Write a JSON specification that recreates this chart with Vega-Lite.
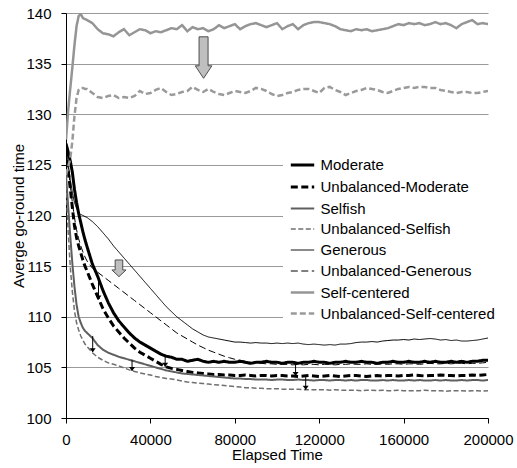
{
"$schema": "https://vega.github.io/schema/vega-lite/v6.json",
"width": 422, "height": 405,
"autosize": {"type": "none"},
"padding": {"left": 66, "top": 13, "right": 29, "bottom": 50},
"background": "white",
"config": {"font": "Liberation Sans", "view": {"stroke": null}},
"datasets": {
"curves": [
{"t":0,"Moderate":127.1,"Unbalanced-Moderate":126.5,"Selfish":124.0,"Unbalanced-Selfish":123.0,"Generous":127.0,"Unbalanced-Generous":126.2,"Self-centered":127.5,"Unbalanced-Self-centered":124.0},
{"t":1000,"Moderate":126.3,"Unbalanced-Moderate":124.5,"Selfish":121.0,"Unbalanced-Selfish":118.5,"Generous":125.2,"Unbalanced-Generous":124.8,"Self-centered":130.3,"Unbalanced-Self-centered":124.8},
{"t":2000,"Moderate":125.4,"Unbalanced-Moderate":122.7,"Selfish":118.0,"Unbalanced-Selfish":115.0,"Generous":123.6,"Unbalanced-Generous":123.0,"Self-centered":132.5,"Unbalanced-Self-centered":125.6},
{"t":3000,"Moderate":124.3,"Unbalanced-Moderate":120.8,"Selfish":115.3,"Unbalanced-Selfish":112.5,"Generous":122.3,"Unbalanced-Generous":121.3,"Self-centered":134.6,"Unbalanced-Self-centered":127.3},
{"t":4000,"Moderate":122.6,"Unbalanced-Moderate":119.0,"Selfish":113.0,"Unbalanced-Selfish":110.6,"Generous":121.3,"Unbalanced-Generous":119.8,"Self-centered":136.8,"Unbalanced-Self-centered":129.8},
{"t":5000,"Moderate":121.3,"Unbalanced-Moderate":117.8,"Selfish":111.2,"Unbalanced-Selfish":109.4,"Generous":120.7,"Unbalanced-Generous":118.6,"Self-centered":138.7,"Unbalanced-Self-centered":131.6},
{"t":6000,"Moderate":120.2,"Unbalanced-Moderate":117.0,"Selfish":110.0,"Unbalanced-Selfish":108.7,"Generous":120.3,"Unbalanced-Generous":117.7,"Self-centered":139.7,"Unbalanced-Self-centered":132.4},
{"t":7000,"Moderate":119.3,"Unbalanced-Moderate":116.3,"Selfish":109.4,"Unbalanced-Selfish":108.1,"Generous":120.1,"Unbalanced-Generous":117.0,"Self-centered":139.9,"Unbalanced-Self-centered":132.6},
{"t":8000,"Moderate":118.4,"Unbalanced-Moderate":115.6,"Selfish":108.9,"Unbalanced-Selfish":107.7,"Generous":120.0,"Unbalanced-Generous":116.4,"Self-centered":139.5,"Unbalanced-Self-centered":132.6},
{"t":9000,"Moderate":117.6,"Unbalanced-Moderate":115.0,"Selfish":108.6,"Unbalanced-Selfish":107.3,"Generous":119.9,"Unbalanced-Generous":115.9,"Self-centered":139.4,"Unbalanced-Self-centered":132.5},
{"t":10000,"Moderate":116.9,"Unbalanced-Moderate":114.5,"Selfish":108.4,"Unbalanced-Selfish":107.05,"Generous":119.8,"Unbalanced-Generous":115.5,"Self-centered":139.3,"Unbalanced-Self-centered":132.5},
{"t":12500,"Moderate":115.2,"Unbalanced-Moderate":113.2,"Selfish":107.9,"Unbalanced-Selfish":106.45,"Generous":119.4,"Unbalanced-Generous":114.8,"Self-centered":139.0,"Unbalanced-Self-centered":132.1},
{"t":15000,"Moderate":114.0,"Unbalanced-Moderate":112.0,"Selfish":107.2,"Unbalanced-Selfish":106.0,"Generous":118.9,"Unbalanced-Generous":114.4,"Self-centered":138.4,"Unbalanced-Self-centered":131.7},
{"t":17500,"Moderate":112.6,"Unbalanced-Moderate":110.8,"Selfish":106.75,"Unbalanced-Selfish":105.7,"Generous":118.3,"Unbalanced-Generous":114.0,"Self-centered":138.0,"Unbalanced-Self-centered":131.6},
{"t":20000,"Moderate":111.4,"Unbalanced-Moderate":109.9,"Selfish":106.45,"Unbalanced-Selfish":105.45,"Generous":117.7,"Unbalanced-Generous":113.6,"Self-centered":137.9,"Unbalanced-Self-centered":131.8},
{"t":22500,"Moderate":110.4,"Unbalanced-Moderate":109.1,"Selfish":106.25,"Unbalanced-Selfish":105.3,"Generous":117.0,"Unbalanced-Generous":113.2,"Self-centered":137.7,"Unbalanced-Self-centered":131.9},
{"t":25000,"Moderate":109.6,"Unbalanced-Moderate":108.5,"Selfish":106.05,"Unbalanced-Selfish":105.15,"Generous":116.4,"Unbalanced-Generous":112.8,"Self-centered":138.1,"Unbalanced-Self-centered":131.6},
{"t":27500,"Moderate":109.0,"Unbalanced-Moderate":107.9,"Selfish":105.9,"Unbalanced-Selfish":104.95,"Generous":115.8,"Unbalanced-Generous":112.4,"Self-centered":138.4,"Unbalanced-Self-centered":131.7},
{"t":30000,"Moderate":108.4,"Unbalanced-Moderate":107.4,"Selfish":105.75,"Unbalanced-Selfish":104.75,"Generous":115.2,"Unbalanced-Generous":112.0,"Self-centered":137.8,"Unbalanced-Self-centered":131.6},
{"t":32500,"Moderate":107.9,"Unbalanced-Moderate":106.9,"Selfish":105.6,"Unbalanced-Selfish":104.6,"Generous":114.6,"Unbalanced-Generous":111.6,"Self-centered":138.1,"Unbalanced-Self-centered":131.8},
{"t":35000,"Moderate":107.5,"Unbalanced-Moderate":106.5,"Selfish":105.45,"Unbalanced-Selfish":104.45,"Generous":114.0,"Unbalanced-Generous":111.2,"Self-centered":138.4,"Unbalanced-Self-centered":132.3},
{"t":37500,"Moderate":107.2,"Unbalanced-Moderate":106.2,"Selfish":105.3,"Unbalanced-Selfish":104.35,"Generous":113.4,"Unbalanced-Generous":110.8,"Self-centered":138.3,"Unbalanced-Self-centered":132.0},
{"t":40000,"Moderate":106.9,"Unbalanced-Moderate":105.9,"Selfish":105.15,"Unbalanced-Selfish":104.25,"Generous":112.8,"Unbalanced-Generous":110.4,"Self-centered":138.0,"Unbalanced-Self-centered":132.1},
{"t":42500,"Moderate":106.6,"Unbalanced-Moderate":105.6,"Selfish":105.0,"Unbalanced-Selfish":104.1,"Generous":112.2,"Unbalanced-Generous":110.0,"Self-centered":138.2,"Unbalanced-Self-centered":132.4},
{"t":45000,"Moderate":106.3,"Unbalanced-Moderate":105.3,"Selfish":104.85,"Unbalanced-Selfish":104.0,"Generous":111.6,"Unbalanced-Generous":109.6,"Self-centered":138.1,"Unbalanced-Self-centered":132.6},
{"t":47500,"Moderate":106.1,"Unbalanced-Moderate":105.05,"Selfish":104.7,"Unbalanced-Selfish":103.9,"Generous":111.0,"Unbalanced-Generous":109.2,"Self-centered":138.3,"Unbalanced-Self-centered":132.2},
{"t":50000,"Moderate":106.0,"Unbalanced-Moderate":104.9,"Selfish":104.6,"Unbalanced-Selfish":103.85,"Generous":110.5,"Unbalanced-Generous":108.8,"Self-centered":138.5,"Unbalanced-Self-centered":131.9},
{"t":52500,"Moderate":105.8,"Unbalanced-Moderate":104.8,"Selfish":104.5,"Unbalanced-Selfish":103.75,"Generous":110.0,"Unbalanced-Generous":108.4,"Self-centered":138.4,"Unbalanced-Self-centered":132.0},
{"t":55000,"Moderate":105.8,"Unbalanced-Moderate":104.7,"Selfish":104.4,"Unbalanced-Selfish":103.65,"Generous":109.6,"Unbalanced-Generous":108.1,"Self-centered":138.8,"Unbalanced-Self-centered":132.2},
{"t":57500,"Moderate":105.6,"Unbalanced-Moderate":104.6,"Selfish":104.35,"Unbalanced-Selfish":103.55,"Generous":109.2,"Unbalanced-Generous":107.8,"Self-centered":138.2,"Unbalanced-Self-centered":132.3},
{"t":60000,"Moderate":105.7,"Unbalanced-Moderate":104.5,"Selfish":104.3,"Unbalanced-Selfish":103.5,"Generous":108.8,"Unbalanced-Generous":107.5,"Self-centered":138.6,"Unbalanced-Self-centered":132.7},
{"t":62500,"Moderate":105.8,"Unbalanced-Moderate":104.45,"Selfish":104.25,"Unbalanced-Selfish":103.45,"Generous":108.5,"Unbalanced-Generous":107.2,"Self-centered":138.4,"Unbalanced-Self-centered":132.4},
{"t":65000,"Moderate":105.6,"Unbalanced-Moderate":104.4,"Selfish":104.2,"Unbalanced-Selfish":103.4,"Generous":108.2,"Unbalanced-Generous":106.95,"Self-centered":138.5,"Unbalanced-Self-centered":132.2},
{"t":67500,"Moderate":105.5,"Unbalanced-Moderate":104.35,"Selfish":104.15,"Unbalanced-Selfish":103.35,"Generous":108.0,"Unbalanced-Generous":106.7,"Self-centered":138.2,"Unbalanced-Self-centered":132.5},
{"t":70000,"Moderate":105.6,"Unbalanced-Moderate":104.3,"Selfish":104.1,"Unbalanced-Selfish":103.3,"Generous":107.9,"Unbalanced-Generous":106.5,"Self-centered":138.4,"Unbalanced-Self-centered":132.2},
{"t":72500,"Moderate":105.5,"Unbalanced-Moderate":104.3,"Selfish":104.05,"Unbalanced-Selfish":103.25,"Generous":107.8,"Unbalanced-Generous":106.3,"Self-centered":138.8,"Unbalanced-Self-centered":132.0},
{"t":75000,"Moderate":105.6,"Unbalanced-Moderate":104.25,"Selfish":104.0,"Unbalanced-Selfish":103.2,"Generous":107.7,"Unbalanced-Generous":106.1,"Self-centered":138.5,"Unbalanced-Self-centered":131.9},
{"t":77500,"Moderate":105.5,"Unbalanced-Moderate":104.25,"Selfish":103.95,"Unbalanced-Selfish":103.15,"Generous":107.6,"Unbalanced-Generous":105.95,"Self-centered":138.7,"Unbalanced-Self-centered":132.1},
{"t":80000,"Moderate":105.5,"Unbalanced-Moderate":104.2,"Selfish":103.9,"Unbalanced-Selfish":103.1,"Generous":107.5,"Unbalanced-Generous":105.8,"Self-centered":138.9,"Unbalanced-Self-centered":132.3},
{"t":82500,"Moderate":105.6,"Unbalanced-Moderate":104.2,"Selfish":103.9,"Unbalanced-Selfish":103.05,"Generous":107.5,"Unbalanced-Generous":105.7,"Self-centered":138.4,"Unbalanced-Self-centered":132.2},
{"t":85000,"Moderate":105.5,"Unbalanced-Moderate":104.25,"Selfish":103.85,"Unbalanced-Selfish":103.0,"Generous":107.45,"Unbalanced-Generous":105.6,"Self-centered":138.7,"Unbalanced-Self-centered":132.1},
{"t":87500,"Moderate":105.4,"Unbalanced-Moderate":104.2,"Selfish":103.85,"Unbalanced-Selfish":103.0,"Generous":107.4,"Unbalanced-Generous":105.5,"Self-centered":138.9,"Unbalanced-Self-centered":132.3},
{"t":90000,"Moderate":105.5,"Unbalanced-Moderate":104.15,"Selfish":103.8,"Unbalanced-Selfish":102.95,"Generous":107.45,"Unbalanced-Generous":105.45,"Self-centered":139.0,"Unbalanced-Self-centered":132.6},
{"t":92500,"Moderate":105.5,"Unbalanced-Moderate":104.2,"Selfish":103.8,"Unbalanced-Selfish":102.95,"Generous":107.4,"Unbalanced-Generous":105.4,"Self-centered":138.8,"Unbalanced-Self-centered":132.5},
{"t":95000,"Moderate":105.6,"Unbalanced-Moderate":104.2,"Selfish":103.8,"Unbalanced-Selfish":102.9,"Generous":107.4,"Unbalanced-Generous":105.35,"Self-centered":138.6,"Unbalanced-Self-centered":132.3},
{"t":97500,"Moderate":105.5,"Unbalanced-Moderate":104.15,"Selfish":103.75,"Unbalanced-Selfish":102.9,"Generous":107.35,"Unbalanced-Generous":105.35,"Self-centered":138.8,"Unbalanced-Self-centered":132.0},
{"t":100000,"Moderate":105.5,"Unbalanced-Moderate":104.2,"Selfish":103.8,"Unbalanced-Selfish":102.9,"Generous":107.4,"Unbalanced-Generous":105.3,"Self-centered":139.0,"Unbalanced-Self-centered":131.8},
{"t":102500,"Moderate":105.4,"Unbalanced-Moderate":104.2,"Selfish":103.8,"Unbalanced-Selfish":102.85,"Generous":107.35,"Unbalanced-Generous":105.3,"Self-centered":138.4,"Unbalanced-Self-centered":131.9},
{"t":105000,"Moderate":105.5,"Unbalanced-Moderate":104.15,"Selfish":103.75,"Unbalanced-Selfish":102.85,"Generous":107.4,"Unbalanced-Generous":105.3,"Self-centered":138.7,"Unbalanced-Self-centered":132.1},
{"t":107500,"Moderate":105.5,"Unbalanced-Moderate":104.15,"Selfish":103.75,"Unbalanced-Selfish":102.85,"Generous":107.35,"Unbalanced-Generous":105.25,"Self-centered":138.9,"Unbalanced-Self-centered":132.2},
{"t":110000,"Moderate":105.4,"Unbalanced-Moderate":104.1,"Selfish":103.8,"Unbalanced-Selfish":102.85,"Generous":107.4,"Unbalanced-Generous":105.3,"Self-centered":138.4,"Unbalanced-Self-centered":132.4},
{"t":112500,"Moderate":105.5,"Unbalanced-Moderate":104.15,"Selfish":103.75,"Unbalanced-Selfish":102.8,"Generous":107.3,"Unbalanced-Generous":105.25,"Self-centered":138.8,"Unbalanced-Self-centered":132.5},
{"t":115000,"Moderate":105.5,"Unbalanced-Moderate":104.2,"Selfish":103.75,"Unbalanced-Selfish":102.8,"Generous":107.25,"Unbalanced-Generous":105.3,"Self-centered":139.0,"Unbalanced-Self-centered":132.5},
{"t":117500,"Moderate":105.6,"Unbalanced-Moderate":104.15,"Selfish":103.7,"Unbalanced-Selfish":102.8,"Generous":107.3,"Unbalanced-Generous":105.3,"Self-centered":139.1,"Unbalanced-Self-centered":132.3},
{"t":120000,"Moderate":105.5,"Unbalanced-Moderate":104.1,"Selfish":103.75,"Unbalanced-Selfish":102.8,"Generous":107.25,"Unbalanced-Generous":105.25,"Self-centered":139.1,"Unbalanced-Self-centered":132.1},
{"t":122500,"Moderate":105.5,"Unbalanced-Moderate":104.15,"Selfish":103.75,"Unbalanced-Selfish":102.8,"Generous":107.2,"Unbalanced-Generous":105.3,"Self-centered":139.0,"Unbalanced-Self-centered":132.6},
{"t":125000,"Moderate":105.4,"Unbalanced-Moderate":104.2,"Selfish":103.7,"Unbalanced-Selfish":102.75,"Generous":107.25,"Unbalanced-Generous":105.3,"Self-centered":138.9,"Unbalanced-Self-centered":132.7},
{"t":127500,"Moderate":105.5,"Unbalanced-Moderate":104.15,"Selfish":103.75,"Unbalanced-Selfish":102.8,"Generous":107.2,"Unbalanced-Generous":105.25,"Self-centered":138.7,"Unbalanced-Self-centered":132.4},
{"t":130000,"Moderate":105.5,"Unbalanced-Moderate":104.1,"Selfish":103.75,"Unbalanced-Selfish":102.75,"Generous":107.3,"Unbalanced-Generous":105.3,"Self-centered":138.4,"Unbalanced-Self-centered":132.2},
{"t":132500,"Moderate":105.6,"Unbalanced-Moderate":104.15,"Selfish":103.7,"Unbalanced-Selfish":102.75,"Generous":107.3,"Unbalanced-Generous":105.3,"Self-centered":138.3,"Unbalanced-Self-centered":131.9},
{"t":135000,"Moderate":105.5,"Unbalanced-Moderate":104.2,"Selfish":103.75,"Unbalanced-Selfish":102.75,"Generous":107.35,"Unbalanced-Generous":105.35,"Self-centered":138.2,"Unbalanced-Self-centered":132.1},
{"t":137500,"Moderate":105.5,"Unbalanced-Moderate":104.2,"Selfish":103.7,"Unbalanced-Selfish":102.75,"Generous":107.45,"Unbalanced-Generous":105.3,"Self-centered":138.4,"Unbalanced-Self-centered":132.3},
{"t":140000,"Moderate":105.6,"Unbalanced-Moderate":104.15,"Selfish":103.75,"Unbalanced-Selfish":102.7,"Generous":107.5,"Unbalanced-Generous":105.3,"Self-centered":138.3,"Unbalanced-Self-centered":132.4},
{"t":142500,"Moderate":105.5,"Unbalanced-Moderate":104.1,"Selfish":103.75,"Unbalanced-Selfish":102.75,"Generous":107.5,"Unbalanced-Generous":105.35,"Self-centered":138.4,"Unbalanced-Self-centered":132.6},
{"t":145000,"Moderate":105.5,"Unbalanced-Moderate":104.15,"Selfish":103.7,"Unbalanced-Selfish":102.75,"Generous":107.55,"Unbalanced-Generous":105.3,"Self-centered":138.2,"Unbalanced-Self-centered":132.5},
{"t":147500,"Moderate":105.4,"Unbalanced-Moderate":104.2,"Selfish":103.7,"Unbalanced-Selfish":102.7,"Generous":107.5,"Unbalanced-Generous":105.3,"Self-centered":138.3,"Unbalanced-Self-centered":132.4},
{"t":150000,"Moderate":105.5,"Unbalanced-Moderate":104.15,"Selfish":103.75,"Unbalanced-Selfish":102.75,"Generous":107.6,"Unbalanced-Generous":105.35,"Self-centered":138.4,"Unbalanced-Self-centered":132.2},
{"t":152500,"Moderate":105.5,"Unbalanced-Moderate":104.2,"Selfish":103.7,"Unbalanced-Selfish":102.7,"Generous":107.65,"Unbalanced-Generous":105.3,"Self-centered":138.5,"Unbalanced-Self-centered":132.1},
{"t":155000,"Moderate":105.6,"Unbalanced-Moderate":104.2,"Selfish":103.75,"Unbalanced-Selfish":102.7,"Generous":107.7,"Unbalanced-Generous":105.35,"Self-centered":138.7,"Unbalanced-Self-centered":132.3},
{"t":157500,"Moderate":105.5,"Unbalanced-Moderate":104.15,"Selfish":103.7,"Unbalanced-Selfish":102.75,"Generous":107.7,"Unbalanced-Generous":105.35,"Self-centered":138.9,"Unbalanced-Self-centered":132.5},
{"t":160000,"Moderate":105.5,"Unbalanced-Moderate":104.2,"Selfish":103.7,"Unbalanced-Selfish":102.7,"Generous":107.75,"Unbalanced-Generous":105.3,"Self-centered":138.8,"Unbalanced-Self-centered":132.6},
{"t":162500,"Moderate":105.6,"Unbalanced-Moderate":104.2,"Selfish":103.75,"Unbalanced-Selfish":102.7,"Generous":107.7,"Unbalanced-Generous":105.35,"Self-centered":139.0,"Unbalanced-Self-centered":132.7},
{"t":165000,"Moderate":105.5,"Unbalanced-Moderate":104.25,"Selfish":103.7,"Unbalanced-Selfish":102.7,"Generous":107.8,"Unbalanced-Generous":105.35,"Self-centered":138.9,"Unbalanced-Self-centered":132.6},
{"t":167500,"Moderate":105.5,"Unbalanced-Moderate":104.2,"Selfish":103.75,"Unbalanced-Selfish":102.7,"Generous":107.75,"Unbalanced-Generous":105.3,"Self-centered":139.0,"Unbalanced-Self-centered":132.7},
{"t":170000,"Moderate":105.6,"Unbalanced-Moderate":104.15,"Selfish":103.7,"Unbalanced-Selfish":102.75,"Generous":107.8,"Unbalanced-Generous":105.35,"Self-centered":138.8,"Unbalanced-Self-centered":132.7},
{"t":172500,"Moderate":105.5,"Unbalanced-Moderate":104.2,"Selfish":103.7,"Unbalanced-Selfish":102.7,"Generous":107.85,"Unbalanced-Generous":105.4,"Self-centered":138.9,"Unbalanced-Self-centered":132.6},
{"t":175000,"Moderate":105.6,"Unbalanced-Moderate":104.2,"Selfish":103.75,"Unbalanced-Selfish":102.7,"Generous":107.8,"Unbalanced-Generous":105.35,"Self-centered":139.1,"Unbalanced-Self-centered":132.6},
{"t":177500,"Moderate":105.5,"Unbalanced-Moderate":104.25,"Selfish":103.7,"Unbalanced-Selfish":102.7,"Generous":107.7,"Unbalanced-Generous":105.35,"Self-centered":138.9,"Unbalanced-Self-centered":132.4},
{"t":180000,"Moderate":105.5,"Unbalanced-Moderate":104.2,"Selfish":103.75,"Unbalanced-Selfish":102.65,"Generous":107.75,"Unbalanced-Generous":105.4,"Self-centered":139.0,"Unbalanced-Self-centered":132.3},
{"t":182500,"Moderate":105.6,"Unbalanced-Moderate":104.2,"Selfish":103.7,"Unbalanced-Selfish":102.7,"Generous":107.65,"Unbalanced-Generous":105.35,"Self-centered":138.8,"Unbalanced-Self-centered":132.2},
{"t":185000,"Moderate":105.5,"Unbalanced-Moderate":104.15,"Selfish":103.7,"Unbalanced-Selfish":102.7,"Generous":107.7,"Unbalanced-Generous":105.4,"Self-centered":138.5,"Unbalanced-Self-centered":132.1},
{"t":187500,"Moderate":105.6,"Unbalanced-Moderate":104.2,"Selfish":103.75,"Unbalanced-Selfish":102.7,"Generous":107.6,"Unbalanced-Generous":105.4,"Self-centered":138.9,"Unbalanced-Self-centered":132.2},
{"t":190000,"Moderate":105.5,"Unbalanced-Moderate":104.2,"Selfish":103.7,"Unbalanced-Selfish":102.65,"Generous":107.6,"Unbalanced-Generous":105.35,"Self-centered":139.1,"Unbalanced-Self-centered":132.2},
{"t":192500,"Moderate":105.6,"Unbalanced-Moderate":104.25,"Selfish":103.75,"Unbalanced-Selfish":102.7,"Generous":107.65,"Unbalanced-Generous":105.4,"Self-centered":139.3,"Unbalanced-Self-centered":132.1},
{"t":195000,"Moderate":105.6,"Unbalanced-Moderate":104.2,"Selfish":103.75,"Unbalanced-Selfish":102.7,"Generous":107.7,"Unbalanced-Generous":105.4,"Self-centered":138.9,"Unbalanced-Self-centered":132.1},
{"t":197500,"Moderate":105.7,"Unbalanced-Moderate":104.25,"Selfish":103.7,"Unbalanced-Selfish":102.65,"Generous":107.8,"Unbalanced-Generous":105.45,"Self-centered":139.0,"Unbalanced-Self-centered":132.2},
{"t":200000,"Moderate":105.7,"Unbalanced-Moderate":104.3,"Selfish":103.75,"Unbalanced-Selfish":102.7,"Generous":107.9,"Unbalanced-Generous":105.5,"Self-centered":138.9,"Unbalanced-Self-centered":132.3}
],
"small": [
{"t":15400,"y1":114.0,"y2":111.7},
{"t":12650,"y1":108.1,"y2":106.5},
{"t":31300,"y1":105.75,"y2":104.65},
{"t":47000,"y1":106.1,"y2":105.05},
{"t":108800,"y1":105.45,"y2":104.15},
{"t":113600,"y1":104.1,"y2":102.8}
],
"big1": [{"t":65200,"tip":133.55}],
"big2": [{"t":25100,"tip":113.96}]
},
"layer": [
{
"data": {"name": "curves"},
"transform": [{"fold": ["Moderate","Unbalanced-Moderate","Selfish","Unbalanced-Selfish","Generous","Unbalanced-Generous","Self-centered","Unbalanced-Self-centered"], "as": ["series","value"]}],
"mark": {"type": "line", "clip": true},
"encoding": {
"x": {"field": "t", "type": "quantitative", "title": "Elapsed Time", "scale": {"domain": [0,200000], "nice": false},
"axis": {"title": "Elapsed Time", "values": [0,40000,80000,120000,160000,200000], "format": "d", "grid": false, "domainColor": "#000", "tickColor": "#000", "tickSize": 5, "labelFontSize": 15, "labelColor": "#000", "labelPadding": 9, "labelFlush": false, "labelOverlap": false, "titleFontSize": 15, "titleFontWeight": "normal", "titleColor": "#000", "titlePadding": 0}},
"y": {"field": "value", "type": "quantitative", "title": "Averge go-round time", "scale": {"domain": [100,140], "nice": false, "zero": false},
"axis": {"title": "Averge go-round time", "values": [100,105,110,115,120,125,130,135,140], "grid": true, "gridColor": "#999", "gridWidth": 1, "domainColor": "#000", "tickColor": "#000", "tickSize": 5, "labelFontSize": 15, "labelColor": "#000", "labelPadding": 10, "titleFontSize": 15, "titleFontWeight": "normal", "titleColor": "#000", "titlePadding": -1}},
"color": {"field": "series", "type": "nominal",
"scale": {"domain": ["Moderate","Unbalanced-Moderate","Selfish","Unbalanced-Selfish","Generous","Unbalanced-Generous","Self-centered","Unbalanced-Self-centered"], "range": ["#000000","#000000","#5f5f5f","#6f6f6f","#000000","#000000","#959595","#9a9a9a"]},
"legend": {"title": null, "orient": "none", "legendX": 217, "legendY": 132.5, "fillColor": "white", "padding": 6, "symbolType": "stroke", "symbolSize": 548, "labelFontSize": 15, "labelColor": "#000", "rowPadding": 0, "labelOffset": 4.5, "labelLimit": 300}},
"strokeDash": {"field": "series", "type": "nominal",
"scale": {"domain": ["Moderate","Unbalanced-Moderate","Selfish","Unbalanced-Selfish","Generous","Unbalanced-Generous","Self-centered","Unbalanced-Self-centered"], "range": [[1,0],[7,3.5],[1,0],[5,2.5],[1,0],[7,3.5],[1,0],[6,3]]},
"legend": {"title": null, "orient": "none", "legendX": 217, "legendY": 132.5, "fillColor": "white", "padding": 6, "symbolType": "stroke", "symbolSize": 548, "labelFontSize": 15, "labelColor": "#000", "rowPadding": 0, "labelOffset": 4.5, "labelLimit": 300}},
"strokeWidth": {"field": "series", "type": "nominal",
"scale": {"type": "ordinal", "domain": ["Moderate","Unbalanced-Moderate","Selfish","Unbalanced-Selfish","Generous","Unbalanced-Generous","Self-centered","Unbalanced-Self-centered"], "range": [3,3,2,1.5,1,1,2.5,2.5]},
"legend": {"title": null, "orient": "none", "legendX": 217, "legendY": 132.5, "fillColor": "white", "padding": 6, "symbolType": "stroke", "symbolSize": 548, "labelFontSize": 15, "labelColor": "#000", "rowPadding": 0, "labelOffset": 4.5, "labelLimit": 300}}
}
},
{
"data": {"name": "small"},
"mark": {"type": "rule", "color": "#000", "strokeWidth": 1},
"encoding": {
"x": {"field": "t", "type": "quantitative", "title": "Elapsed Time"},
"y": {"field": "y1", "type": "quantitative", "title": "Averge go-round time"},
"y2": {"field": "y2"}
}
},
{
"data": {"name": "small"},
"mark": {"type": "point", "shape": "M-1.2,-1.6L1.2,-1.6L0,0Z", "size": 25, "filled": true, "color": "#000", "opacity": 1},
"encoding": {
"x": {"field": "t", "type": "quantitative", "title": "Elapsed Time"},
"y": {"field": "y2", "type": "quantitative", "title": "Averge go-round time"}
}
},
{
"data": {"name": "big1"},
"mark": {"type": "point", "shape": "M-4.5,-41.5L4.5,-41.5L4.5,-12.5L8.3,-12.5L0,0L-8.3,-12.5L-4.5,-12.5Z", "size": 4, "filled": true, "fill": "#bfbfbf", "stroke": "#4d4d4d", "strokeWidth": 1, "opacity": 1},
"encoding": {
"x": {"field": "t", "type": "quantitative", "title": "Elapsed Time"},
"y": {"field": "tip", "type": "quantitative", "title": "Averge go-round time"}
}
},
{
"data": {"name": "big2"},
"mark": {"type": "point", "shape": "M-3.8,-16.7L3.8,-16.7L3.8,-6.7L7.1,-6.7L0,0L-7.1,-6.7L-3.8,-6.7Z", "size": 4, "filled": true, "fill": "#bfbfbf", "stroke": "#4d4d4d", "strokeWidth": 1, "opacity": 1},
"encoding": {
"x": {"field": "t", "type": "quantitative", "title": "Elapsed Time"},
"y": {"field": "tip", "type": "quantitative", "title": "Averge go-round time"}
}
}
]
}
